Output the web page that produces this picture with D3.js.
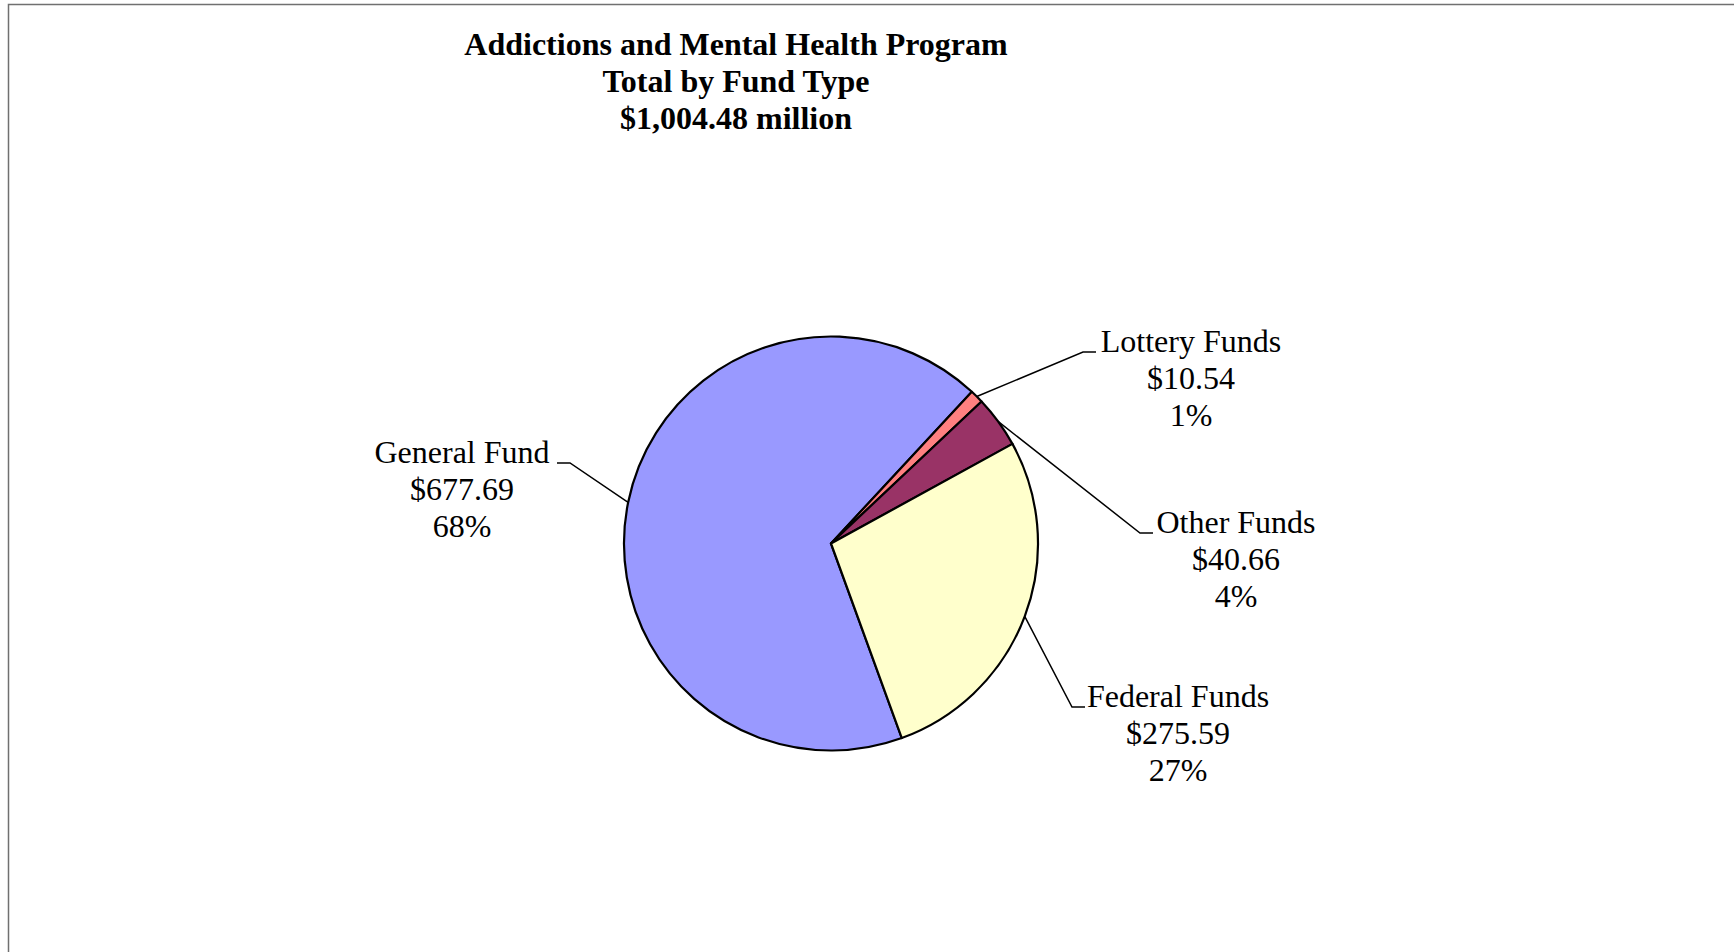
<!DOCTYPE html>
<html>
<head>
<meta charset="utf-8">
<script src="https://cdn.jsdelivr.net/npm/d3@7"></script>
<style>
  html, body { margin: 0; padding: 0; background: #fff; }
  svg { display: block; }
  text { font-family: "Times New Roman", "Liberation Serif", serif; fill: #000; }
</style>
</head>
<body>
<svg id="chart" width="1734" height="952"></svg>
<script>
// Fund types and amounts ($ millions)
const categories = ["General Fund", "Lottery Funds", "Other Funds", "Federal Funds"];
const amounts = [677.69, 10.54, 40.66, 275.59];
const valueLabels = ["$677.69", "$10.54", "$40.66", "$275.59"];
const percentLabels = ["68%", "1%", "4%", "27%"];
const titleLines = ["Addictions and Mental Health Program", "Total by Fund Type", "$1,004.48 million"];

// Styling and layout
const sliceColors = ["#9999FF", "#FF8080", "#993366", "#FFFFCC"];
const W = 1734, H = 952;
const center = { x: 831, y: 543.5 };
const radius = 207;
const firstSliceAngle = 160 * Math.PI / 180;   // rotation of the first slice
const lineHeight = 37;
// Label block placement: elbow of the leader line, and which side the text sits on
const labelLayout = [
  { elbowX: 570, elbowY: 463, side: "left",  textCx: 462 },
  { elbowX: 1083, elbowY: 352, side: "right", textCx: 1191 },
  { elbowX: 1140, elbowY: 533, side: "right", textCx: 1236 },
  { elbowX: 1072, elbowY: 707, side: "right", textCx: 1178 }
];
const elbowLen = 13;

const svg = d3.select("#chart");

// Frame
svg.append("rect")
  .attr("x", 8.5).attr("y", 4.5)
  .attr("width", W + 20).attr("height", H + 20)
  .attr("fill", "none")
  .attr("stroke", "#707070")
  .attr("stroke-width", 1.5);

// Title
const title = svg.append("text")
  .attr("text-anchor", "middle")
  .attr("font-weight", "bold")
  .attr("font-size", 32);
titleLines.forEach((t, i) => {
  title.append("tspan").attr("x", 736).attr("y", 55 + i * lineHeight).text(t);
});

// Pie
const data = categories.map((c, i) => ({ name: c, value: amounts[i], i }));
const pie = d3.pie()
  .sort(null)
  .value(d => d.value)
  .startAngle(firstSliceAngle)
  .endAngle(firstSliceAngle + 2 * Math.PI);
const arcs = pie(data);
const arc = d3.arc().innerRadius(0).outerRadius(radius);

const g = svg.append("g").attr("transform", `translate(${center.x},${center.y})`);
g.selectAll("path.slice")
  .data(arcs)
  .join("path")
  .attr("class", "slice")
  .attr("d", arc)
  .attr("fill", d => sliceColors[d.data.i])
  .attr("stroke", "#000")
  .attr("stroke-width", 2.2)
  .attr("stroke-linejoin", "round");

// Leader lines and labels
arcs.forEach(a => {
  const i = a.data.i;
  const L = labelLayout[i];
  const mid = (a.startAngle + a.endAngle) / 2;
  const px = center.x + radius * Math.sin(mid);
  const py = center.y - radius * Math.cos(mid);
  const endX = L.side === "left" ? L.elbowX - elbowLen : L.elbowX + elbowLen;
  svg.append("path")
    .attr("d", d3.line()([[px, py], [L.elbowX, L.elbowY], [endX, L.elbowY]]))
    .attr("fill", "none")
    .attr("stroke", "#000")
    .attr("stroke-width", 1.5);

  const t = svg.append("text")
    .attr("text-anchor", "middle")
    .attr("font-size", 32);
  [categories[i], valueLabels[i], percentLabels[i]].forEach((s, k) => {
    t.append("tspan").attr("x", L.textCx).attr("y", L.elbowY + k * lineHeight).text(s);
  });
});
</script>
</body>
</html>
